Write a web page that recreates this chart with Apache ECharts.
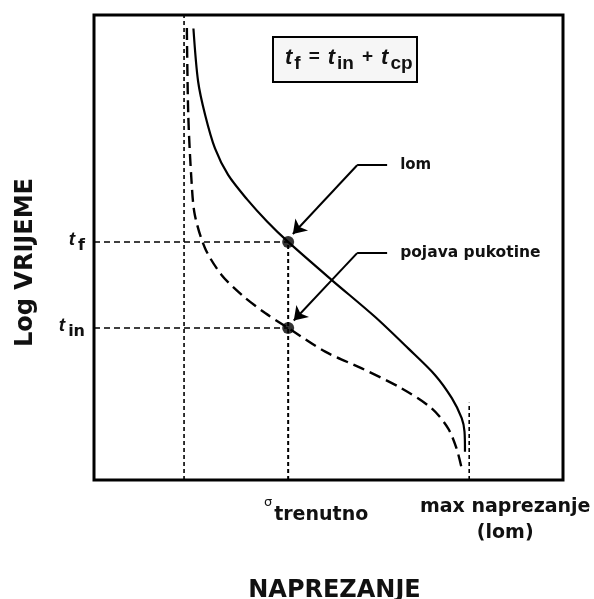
<!DOCTYPE html>
<html>
<head>
<meta charset="utf-8">
<script src="https://cdn.jsdelivr.net/npm/echarts@6/dist/echarts.min.js"></script>
<style>
  html, body { margin: 0; padding: 0; background: #fff; }
  #chart { width: 594px; height: 599px; }
</style>
</head>
<body>
<div id="chart"></div>
<script>
// naprezanje (0-100) i log vremena (0-100), ocitano sa slike
var lomStress = [21.2, 22.2, 23.7, 25.8, 28.6, 32.6, 36.9, 41.4, 50.7, 59.9, 67.0, 72.7, 76.3, 78.4, 79.0, 79.1];
var lomTime   = [97.1, 85.7, 78.5, 71.3, 65.6, 60.4, 55.6, 51.2, 43.0, 35.1, 28.3, 22.6, 17.6, 13.3, 10.4, 6.1];

var pukStress = [19.8, 20.1, 20.8, 21.5, 23.7, 27.2, 31.5, 36.5, 41.4, 49.3, 57.1, 65.6, 72.0, 75.5, 77.3, 78.4];
var pukTime   = [97.2, 78.5, 64.2, 57.0, 49.8, 44.1, 39.8, 35.9, 32.7, 27.6, 24.0, 19.7, 15.4, 11.1, 6.8, 2.5];

var minStress = 19.2;       // lijeva tockasta linija
var sigmaNow = 41.4;        // sigma trenutno
var maxStress = 80.0;       // max naprezanje (lom)
var maxStressTop = 16.6;
var tFracture = 51.2;       // t_f
var tInit = 32.7;           // t_in

var yTickValues = [tInit, tFracture];
var yTickSubs = ['in', 'f'];

// strelice: [pocetak teksta, koljeno, vrh strelice]
var lomLeader = [[62.5, 67.7], [56.1, 67.7], [42.4, 52.9]];
var pukLeader = [[62.5, 48.8], [56.1, 48.8], [42.6, 34.3]];

function zip(a, b) {
  return a.map(function (v, i) { return [v, b[i]]; });
}

var font = 'DejaVu Sans';
var chart = echarts.init(document.getElementById('chart'));

function refLine(points, dash, width) {
  return {
    type: 'line', data: points, symbol: 'none', silent: true,
    lineStyle: { color: '#000', width: width, type: dash }
  };
}

var option = {
  animation: false,
  grid: {
    left: 94, top: 15, width: 469, height: 465, containLabel: false, outerBoundsMode: 'none',
    show: true, borderColor: '#000', borderWidth: 3
  },
  xAxis: {
    type: 'value', min: 0, max: 100,
    axisLine: { show: false }, axisTick: { show: false }, splitLine: { show: false }, axisLabel: { show: false },
    name: 'NAPREZANJE', nameLocation: 'middle', nameGap: 99,
    nameTextStyle: { fontFamily: font, fontWeight: 'bold', fontSize: 24, color: '#111', padding: [0, 0, 0, 12] }
  },
  yAxis: {
    type: 'value', min: 0, max: 100,
    axisLine: { show: false }, axisTick: { show: false }, splitLine: { show: false },
    axisLabel: {
      show: true, customValues: yTickValues, margin: 9,
      formatter: function (v) {
        var i = yTickValues.indexOf(v);
        return '{t|t}{s|' + yTickSubs[i] + '}';
      },
      rich: {
        t: { fontFamily: 'Liberation Sans', fontStyle: 'italic', fontWeight: 'bold', fontSize: 19, lineHeight: 24, verticalAlign: 'top', color: '#111' },
        s: { fontFamily: font, fontWeight: 'bold', fontSize: 16, lineHeight: 14, verticalAlign: 'bottom', color: '#111', padding: [0, 0, 0, 3] }
      }
    },
    name: 'Log VRIJEME', nameLocation: 'middle', nameGap: 56, nameRotate: 90,
    nameTextStyle: { fontFamily: font, fontWeight: 'bold', fontSize: 24, color: '#111', padding: [0, 30, 0, 0] }
  },
  series: [
    refLine([[minStress, 0], [minStress, 100]], [4, 3], 1.6),
    refLine([[sigmaNow, 0], [sigmaNow, tFracture]], [4, 3], 2),
    refLine([[0, tFracture], [sigmaNow, tFracture]], [6, 4], 1.5),
    refLine([[0, tInit], [sigmaNow, tInit]], [6, 4], 1.5),
    refLine([[maxStress, 0], [maxStress, maxStressTop]], [4, 3], 1.6),
    {
      name: 'lom', type: 'line', data: zip(lomStress, lomTime), smooth: 0.3, symbol: 'none',
      lineStyle: { color: '#000', width: 2.2 }
    },
    {
      name: 'pojava pukotine', type: 'line', data: zip(pukStress, pukTime), smooth: 0.3, symbol: 'none',
      lineStyle: { color: '#000', width: 2.4, type: [12, 6] }
    },
    {
      type: 'lines', coordinateSystem: 'cartesian2d', symbol: 'none',
      lineStyle: { color: '#000', width: 2, opacity: 1 },
      data: [{ coords: [lomLeader[0], lomLeader[1]] }, { coords: [pukLeader[0], pukLeader[1]] }]
    },
    {
      type: 'lines', coordinateSystem: 'cartesian2d', symbol: ['none', 'arrow'], symbolSize: [6, 13],
      lineStyle: { color: '#000', width: 2, opacity: 1 },
      data: [{ coords: [lomLeader[1], lomLeader[2]] }, { coords: [pukLeader[1], pukLeader[2]] }]
    },
    {
      type: 'scatter', data: [[sigmaNow, tFracture], [sigmaNow, tInit]], symbolSize: 12,
      itemStyle: { color: '#000' }
    }
  ]
};
chart.setOption(option);

// tekstovi vezani uz koordinate grafa
var pLom = chart.convertToPixel({ gridIndex: 0 }, lomLeader[0]);
var pPuk = chart.convertToPixel({ gridIndex: 0 }, pukLeader[0]);
var pSig = chart.convertToPixel({ gridIndex: 0 }, [sigmaNow, 0]);
var pMax = chart.convertToPixel({ gridIndex: 0 }, [maxStress, 0]);

var bold = function (size) {
  return { fontFamily: font, fontWeight: 'bold', fontSize: size, fill: '#111' };
};

chart.setOption({
  graphic: [
    { type: 'text', x: pLom[0] + 13, y: pLom[1], style: Object.assign(bold(15), { text: 'lom', verticalAlign: 'middle' }) },
    { type: 'text', x: pPuk[0] + 13, y: pPuk[1], style: Object.assign(bold(15.5), { text: 'pojava pukotine', verticalAlign: 'middle' }) },
    { type: 'text', x: pSig[0] - 20, y: pSig[1] + 23, style: { text: 'σ', fontFamily: font, fontSize: 13, fill: '#111', align: 'center', verticalAlign: 'middle' } },
    { type: 'text', x: pSig[0] - 14, y: pSig[1] + 35, style: Object.assign(bold(19), { text: 'trenutno', verticalAlign: 'middle' }) },
    { type: 'text', x: pMax[0] + 36, y: pMax[1] + 40, style: Object.assign(bold(19), { text: 'max naprezanje\n(lom)', align: 'center', verticalAlign: 'middle', lineHeight: 26 }) },
    {
      type: 'rect', shape: { x: 273, y: 37, width: 144, height: 45 },
      style: { fill: '#f6f6f6', stroke: '#000', lineWidth: 2 }
    },
    {
      type: 'text', x: 285, y: 60,
      style: {
        text: '{t|t}{s|f}{o|=}{t|t}{s|in}{o|+}{t|t}{s|cp}',
        verticalAlign: 'middle',
        rich: {
          t: { fontFamily: 'Liberation Sans', fontStyle: 'italic', fontWeight: 'bold', fontSize: 22, lineHeight: 26, verticalAlign: 'top', fill: '#111' },
          s: { fontFamily: 'Liberation Sans', fontWeight: 'bold', fontSize: 19, lineHeight: 16, verticalAlign: 'bottom', fill: '#111', padding: [0, 0, 0, 2] },
          o: { fontFamily: 'Liberation Sans', fontWeight: 'bold', fontSize: 19, lineHeight: 26, verticalAlign: 'top', fill: '#111', padding: [0, 8, 0, 8] }
        }
      }
    }
  ]
});
</script>
</body>
</html>
